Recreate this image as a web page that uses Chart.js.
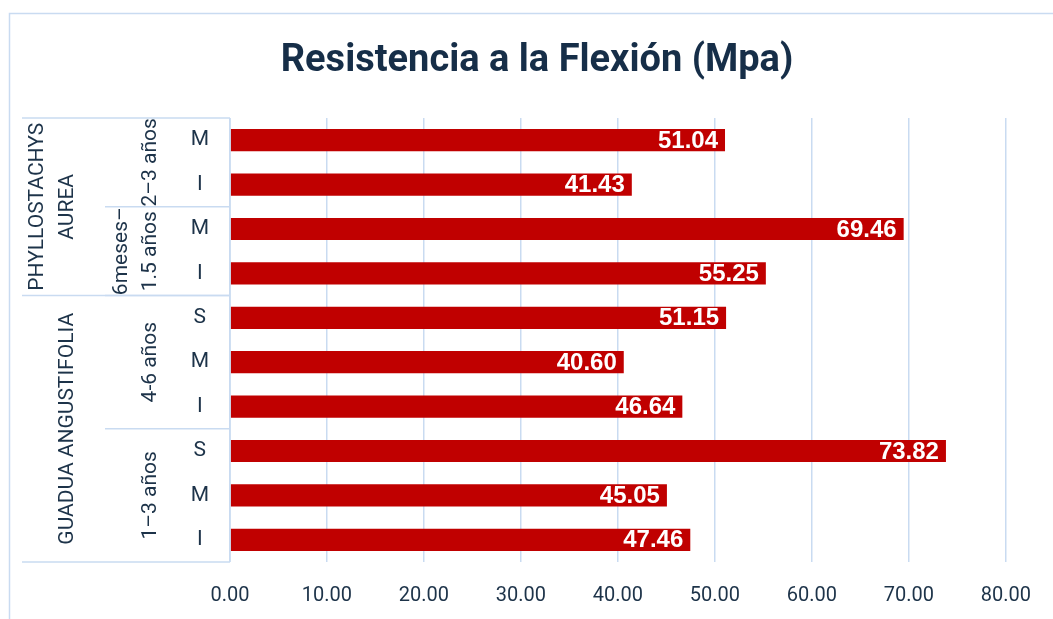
<!DOCTYPE html>
<html>
<head>
<meta charset="utf-8">
<script src="https://cdn.jsdelivr.net/npm/chart.js@4"></script>
<style>
  html, body { margin: 0; padding: 0; background: #fff; }
  #wrap { width: 1053px; height: 619px; position: relative; }
</style>
</head>
<body>
<div id="wrap"><canvas id="chart"></canvas></div>
<script>
// Data
const chartTitle = 'Resistencia a la Flexión (Mpa)';
const leafLabels = ['M', 'I', 'M', 'I', 'S', 'M', 'I', 'S', 'M', 'I'];
const values = [51.04, 41.43, 69.46, 55.25, 51.15, 40.60, 46.64, 73.82, 45.05, 47.46];

const ageLabels = [['2–3 años'], ['6meses–', '1.5 años'], ['4-6 años'], ['1–3 años']];
const ageSpans = [2, 2, 3, 3];

const speciesLabels = [['PHYLLOSTACHYS', 'AUREA'], ['GUADUA ANGUSTIFOLIA']];
const speciesSpans = [4, 6];

const xMin = 0;
const xMax = 80;
const xStep = 10;

// Colours
const barColor = '#c00000';
const gridColor = '#c9dbf1';
const textColor = '#1d3349';
const titleColor = '#162e48';

// Outer frame + title (title centred on the whole frame, not the padded box)
const framePlugin = {
    id: 'frame',
    beforeDraw(chart) {
        const c = chart.ctx;
        c.save();
        c.strokeStyle = gridColor;
        c.lineWidth = 1.5;
        c.strokeRect(9.5, 13.5, 1200, 800);

        c.fillStyle = titleColor;
        c.font = 'bold 38px Roboto, sans-serif';
        c.textAlign = 'center';
        c.textBaseline = 'middle';
        c.fillText(chartTitle, 537, 61);
        c.restore();
    }
};

// Multi-level category axis: group labels + separators
const groupAxisPlugin = {
    id: 'groupAxis',
    afterDraw(chart) {
        const c = chart.ctx;
        const y = chart.scales.y;
        const area = chart.chartArea;
        const boundary = (k) => (y.getPixelForValue(k) + y.getPixelForValue(k + 1)) / 2;

        c.save();
        c.strokeStyle = gridColor;
        c.lineWidth = 1.5;

        const hline = (py, x0) => {
            c.beginPath();
            c.moveTo(x0, py);
            c.lineTo(area.left, py);
            c.stroke();
        };

        hline(area.top, 22);
        hline(area.bottom, 22);

        // age separators
        let idx = 0;
        ageSpans.forEach((n, i) => {
            idx += n;
            if (i < ageSpans.length - 1) hline(boundary(idx - 1), 105);
        });
        // species separators
        idx = 0;
        speciesSpans.forEach((n, i) => {
            idx += n;
            if (i < speciesSpans.length - 1) hline(boundary(idx - 1), 22);
        });

        // axis line
        c.beginPath();
        c.moveTo(area.left, area.top);
        c.lineTo(area.left, area.bottom);
        c.stroke();

        // rotated labels, last line anchored at colX
        const drawRotated = (lines, colX, cy, lh) => {
            const n = lines.length;
            lines.forEach((t, i) => {
                const x = colX - (n - 1 - i) * lh;
                c.save();
                c.translate(x, cy);
                c.rotate(-Math.PI / 2);
                c.textAlign = 'center';
                c.textBaseline = 'middle';
                c.fillText(t, 0, 0);
                c.restore();
            });
        };

        c.fillStyle = textColor;
        c.font = '21px Roboto, sans-serif';

        let start = 0;
        ageSpans.forEach((n, i) => {
            const top = start === 0 ? area.top : boundary(start - 1);
            const bot = start + n >= leafLabels.length ? area.bottom : boundary(start + n - 1);
            drawRotated(ageLabels[i], 151, (top + bot) / 2, 29);
            start += n;
        });

        start = 0;
        speciesSpans.forEach((n, i) => {
            const top = start === 0 ? area.top : boundary(start - 1);
            const bot = start + n >= leafLabels.length ? area.bottom : boundary(start + n - 1);
            drawRotated(speciesLabels[i], 68, (top + bot) / 2, 30);
            start += n;
        });

        c.restore();
    }
};

// Value labels inside bar ends
const valueLabelPlugin = {
    id: 'valueLabels',
    afterDatasetsDraw(chart) {
        const c = chart.ctx;
        const meta = chart.getDatasetMeta(0);
        c.save();
        c.fillStyle = '#ffffff';
        c.font = 'bold 24px "Liberation Sans", Arial, sans-serif';
        c.textAlign = 'right';
        c.textBaseline = 'middle';
        meta.data.forEach((bar, i) => {
            c.fillText(values[i].toFixed(2), bar.x - 7, bar.y + 1);
        });
        c.restore();
    }
};

const ctx = document.getElementById('chart').getContext('2d');
const chart = new Chart(ctx, {
    type: 'bar',
    data: {
        labels: leafLabels,
        datasets: [{
            data: values,
            backgroundColor: barColor,
            borderWidth: 0,
            barPercentage: 0.5,
            categoryPercentage: 1.0
        }]
    },
    options: {
        indexAxis: 'y',
        responsive: true,
        maintainAspectRatio: false,
        animation: false,
        layout: {
            padding: { top: 118, left: 22, right: 43, bottom: 15 }
        },
        plugins: {
            legend: { display: false },
            tooltip: { enabled: false },
            title: { display: false }
        },
        scales: {
            x: {
                min: xMin,
                max: xMax,
                afterFit: (scale) => { scale.height = 42; },
                ticks: {
                    stepSize: xStep,
                    color: textColor,
                    padding: 22,
                    font: { family: 'Roboto, sans-serif', size: 20 },
                    callback: (v) => Number(v).toFixed(2)
                },
                grid: { color: gridColor, lineWidth: 1.5, drawTicks: false },
                border: { display: false }
            },
            y: {
                afterFit: (scale) => { scale.width = 208; },
                ticks: {
                    color: textColor,
                    crossAlign: 'center',
                    padding: 13,
                    font: { family: 'Roboto, sans-serif', size: 21 }
                },
                grid: { display: false },
                border: { display: false }
            }
        }
    },
    plugins: [framePlugin, groupAxisPlugin, valueLabelPlugin]
});
</script>
</body>
</html>
